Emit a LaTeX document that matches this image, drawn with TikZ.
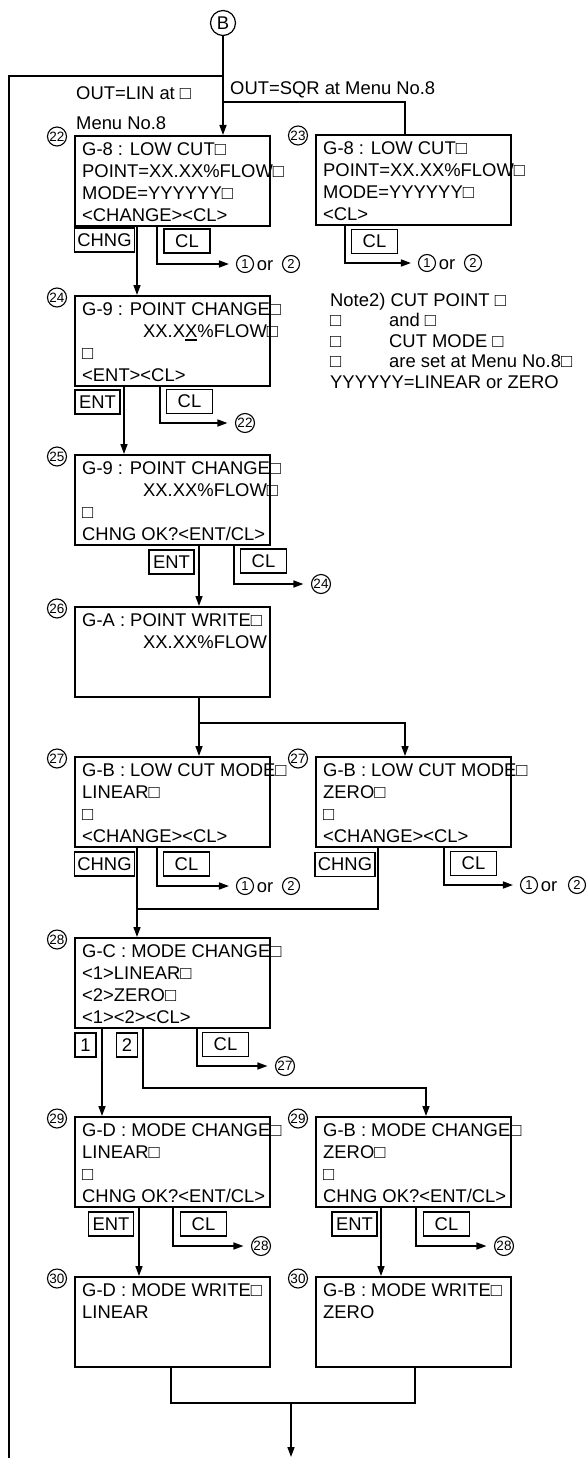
\documentclass[tikz,border=0pt]{standalone}
\usepackage{fontspec}
\setmainfont{Liberation Sans}
\usetikzlibrary{arrows.meta,calc}
\newcommand\sq{□}
\newcommand\ulX{\rlap{\rule[-3pt]{12pt}{1.6pt}}X}
\newcommand\fst{\rule{0pt}{15pt}}
\begin{document}
\begin{tikzpicture}[x=1pt,y=-1pt,
  scr/.style={draw,line width=1.8pt,minimum width=195pt,minimum height=90pt,inner sep=0pt,anchor=north west},
  txt/.style={align=left,inner sep=0pt,anchor=north west,font=\fontsize{18.4}{22}\selectfont},
  lab/.style={inner sep=0pt,font=\fontsize{18.4}{22}\selectfont},
  keyb/.style={draw,line width=1.3pt,minimum height=24pt,inner sep=0pt,font=\fontsize{18.4}{22}\selectfont},
  num/.style={circle,draw,line width=1.1pt,inner sep=0pt,minimum size=19pt,font=\fontsize{13.5}{13.5}\selectfont},
  snum/.style={circle,draw,line width=1.1pt,inner sep=0pt,minimum size=17pt,font=\fontsize{13}{13}\selectfont},
  conn/.style={line width=1.5pt},
  arr/.style={conn,-{Triangle[length=10pt,width=7pt]}}]
\useasboundingbox (0,0) rectangle (588,1458);

% ---------- screens ----------
\node[scr] (b22) at (74,135) {};
\node[scr] (b23) at (315,134) {};
\node[scr] (b24) at (74,295) {};
\node[scr] (b25) at (74,454) {};
\node[scr] (b26) at (74,606) {};
\node[scr] (b27L) at (74,756) {};
\node[scr] (b27R) at (315,756) {};
\node[scr] (b28) at (74,937) {};
\node[scr] (b29L) at (74,1116) {};
\node[scr] (b29R) at (315,1116) {};
\node[scr] (b30L) at (74,1276) {};
\node[scr] (b30R) at (315,1276) {};

% ---------- screen texts ----------
\node[txt] (t22) at ($(b22.north west)+(8,5.5)$) {\fst G-8 : LOW CUT\sq\\POINT=XX.XX\%FLOW\sq\\MODE=YYYYYY\sq\\<CHANGE><CL>};
\node[txt] (t23) at ($(b23.north west)+(8,5.5)$) {\fst G-8 : LOW CUT\sq\\POINT=XX.XX\%FLOW\sq\\MODE=YYYYYY\sq\\<CL>};
\node[txt] (t24) at ($(b24.north west)+(8,5.5)$) {\fst G-9 : POINT CHANGE\sq\\\hspace*{61pt}XX.X\ulX\%FLOW\sq\\\sq\\<ENT><CL>};
\node[txt] (t25) at ($(b25.north west)+(8,5.5)$) {\fst G-9 : POINT CHANGE\sq\\\hspace*{61pt}XX.XX\%FLOW\sq\\\sq\\CHNG OK?<ENT/CL>};
\node[txt] (t26) at ($(b26.north west)+(8,5.5)$) {\fst G-A : POINT WRITE\sq\\\hspace*{61pt}XX.XX\%FLOW};
\node[txt] (t27L) at ($(b27L.north west)+(8,5.5)$) {\fst G-B : LOW CUT MODE\sq\\LINEAR\sq\\\sq\\<CHANGE><CL>};
\node[txt] (t27R) at ($(b27R.north west)+(8,5.5)$) {\fst G-B : LOW CUT MODE\sq\\ZERO\sq\\\sq\\<CHANGE><CL>};
\node[txt] (t28) at ($(b28.north west)+(8,5.5)$) {\fst G-C : MODE CHANGE\sq\\<1>LINEAR\sq\\<2>ZERO\sq\\<1><2><CL>};
\node[txt] (t29L) at ($(b29L.north west)+(8,5.5)$) {\fst G-D : MODE CHANGE\sq\\LINEAR\sq\\\sq\\CHNG OK?<ENT/CL>};
\node[txt] (t29R) at ($(b29R.north west)+(8,5.5)$) {\fst G-B : MODE CHANGE\sq\\ZERO\sq\\\sq\\CHNG OK?<ENT/CL>};
\node[txt] (t30L) at ($(b30L.north west)+(8,5.5)$) {\fst G-D : MODE WRITE\sq\\LINEAR};
\node[txt] (t30R) at ($(b30R.north west)+(8,5.5)$) {\fst G-B : MODE WRITE\sq\\ZERO};

% ---------- step numbers ----------
\node[num] (n22) at ($(b22.north west)+(-17,1.5)$) {22};
\node[num] (n23) at ($(b23.north west)+(-17,1.5)$) {23};
\node[num] (n24) at ($(b24.north west)+(-17,2.5)$) {24};
\node[num] (n25) at ($(b25.north west)+(-17,2.5)$) {25};
\node[num] (n26) at ($(b26.north west)+(-17,2.5)$) {26};
\node[num] (n27L) at ($(b27L.north west)+(-17,2.5)$) {27};
\node[num] (n27R) at ($(b27R.north west)+(-17,2.5)$) {27};
\node[num] (n28) at ($(b28.north west)+(-17,2.5)$) {28};
\node[num] (n29L) at ($(b29L.north west)+(-17,2.5)$) {29};
\node[num] (n29R) at ($(b29R.north west)+(-17,2.5)$) {29};
\node[num] (n30L) at ($(b30L.north west)+(-17,2.5)$) {30};
\node[num] (n30R) at ($(b30R.north west)+(-17,2.5)$) {30};

% ---------- keys ----------
\node[keyb,minimum width=60pt] (k22chng) at (104.5,240) {CHNG};
\node[keyb,minimum width=46pt] (k22cl) at (187,241) {CL};
\node[keyb,minimum width=46pt] (k23cl) at (374.5,241.5) {CL};
\node[keyb,minimum width=45pt] (k24ent) at (97.5,402) {ENT};
\node[keyb,minimum width=46pt] (k24cl) at (189.5,401.5) {CL};
\node[keyb,minimum width=45pt] (k25ent) at (171.5,562) {ENT};
\node[keyb,minimum width=46pt] (k25cl) at (263.5,561) {CL};
\node[keyb,minimum width=60pt] (k27Lchng) at (104.5,864) {CHNG};
\node[keyb,minimum width=46pt] (k27Lcl) at (186.5,864) {CL};
\node[keyb,minimum width=60pt] (k27Rchng) at (345,864.5) {CHNG};
\node[keyb,minimum width=46pt] (k27Rcl) at (473.5,863.5) {CL};
\node[keyb,minimum width=21pt] (k28one) at (85.5,1045) {1};
\node[keyb,minimum width=21pt] (k28two) at (127,1045) {2};
\node[keyb,minimum width=46pt] (k28cl) at (225.5,1044.5) {CL};
\node[keyb,minimum width=45pt] (k29Lent) at (111,1224) {ENT};
\node[keyb,minimum width=46pt] (k29Lcl) at (203.5,1224) {CL};
\node[keyb,minimum width=45pt] (k29Rent) at (354.5,1224) {ENT};
\node[keyb,minimum width=46pt] (k29Rcl) at (446.5,1224) {CL};

% ---------- free labels ----------
\node[circle,draw,line width=1.2pt,minimum size=25pt,inner sep=0pt,font=\fontsize{18.4}{22}\selectfont] (B) at (223,23) {B};
\node[lab,anchor=base west] (sqr) at (230,95) {OUT=SQR at Menu No.8};
\node[lab,anchor=base west] (lin1) at (76,100) {OUT=LIN at \sq};
\node[lab,anchor=base west] (lin2) at (76,130) {Menu No.8};

\node[lab,anchor=base west] (nt1) at (330,306) {Note2) CUT POINT \sq};
\node[lab,anchor=base west] (nt2a) at (330,326.5) {\sq};
\node[lab,anchor=base west] (nt2b) at (389,326.5) {and \sq};
\node[lab,anchor=base west] (nt3a) at (330,347) {\sq};
\node[lab,anchor=base west] (nt3b) at (389,347) {CUT MODE \sq};
\node[lab,anchor=base west] (nt4a) at (330,367.5) {\sq};
\node[lab,anchor=base west] (nt4b) at (389,367.5) {are set at Menu No.8\sq};
\node[lab,anchor=base west] (nt5) at (330,388) {YYYYYY=LINEAR or ZERO};

% targets of CL arrows
\node[snum] (o22a) at (245,264) {1};
\node[lab,anchor=base] (o22or) at (265,270) {or};
\node[snum] (o22b) at (291,264) {2};
\node[snum] (o23a) at (427,263) {1};
\node[lab,anchor=base] (o23or) at (447,269) {or};
\node[snum] (o23b) at (473,263) {2};
\node[num] (r22) at (245,423) {22};
\node[num] (r24) at (321,584) {24};
\node[snum] (o27La) at (245,886) {1};
\node[lab,anchor=base] (o27Lor) at (265,892) {or};
\node[snum] (o27Lb) at (291,886) {2};
\node[snum] (o27Ra) at (529,885) {1};
\node[lab,anchor=base] (o27Ror) at (549,891) {or};
\node[snum] (o27Rb) at (577,885) {2};
\node[num] (r27) at (285,1066) {27};
\node[num] (r28a) at (261,1246) {28};
\node[num] (r28b) at (504,1246) {28};

% ---------- connectors ----------
\coordinate (j1) at (223,76);
\coordinate (j2) at (223,102);
\coordinate (loopA) at (9,76);
\coordinate (loopB) at (9,1458);
\coordinate (j3) at (199,723);
\coordinate (j4) at (137,909);
\coordinate (j5) at (143,1088);
\coordinate (j6) at (291,1403);
\coordinate (endc) at (291,1457);

\draw[arr] (B.south) -- ([xshift=149pt]b22.north west);
\draw[conn] (j1) -- (loopA) -- (loopB);
\draw[conn] (j2) -| ([xshift=90pt]b23.north west);

\draw[arr] ([xshift=63pt]b22.south west) -- ([xshift=63pt]b24.north west);
\draw[arr] ([xshift=83pt]b22.south west) |- ([xshift=-7pt]o22a.west);
\draw[arr] ([xshift=30pt]b23.south west) |- ([xshift=-7pt]o23a.west);

\draw[arr] ([xshift=50pt]b24.south west) -- ([xshift=50pt]b25.north west);
\draw[arr] ([xshift=86pt]b24.south west) |- ([xshift=-7.5pt]r22.west);

\draw[arr] ([xshift=125pt]b25.south west) -- ([xshift=125pt]b26.north west);
\draw[arr] ([xshift=160pt]b25.south west) |- ([xshift=-7.5pt]r24.west);

\draw[arr] ([xshift=125pt]b26.south west) -- ([xshift=125pt]b27L.north west);
\draw[arr] (j3) -| ([xshift=90pt]b27R.north west);

\draw[arr] ([xshift=63pt]b27L.south west) -- ([xshift=63pt]b28.north west);
\draw[conn] ([xshift=63pt]b27R.south west) |- (j4);
\draw[arr] ([xshift=83pt]b27L.south west) |- ([xshift=-7pt]o27La.west);
\draw[arr] ([xshift=129pt]b27R.south west) |- ([xshift=-7pt]o27Ra.west);

\draw[arr] ([xshift=28pt]b28.south west) -- ([xshift=28pt]b29L.north west);
\draw[arr] ([xshift=69pt]b28.south west) -- (j5) -| ([xshift=111pt]b29R.north west);
\draw[arr] ([xshift=123pt]b28.south west) |- ([xshift=-7.5pt]r27.west);

\draw[arr] ([xshift=65pt]b29L.south west) -- ([xshift=65pt]b30L.north west);
\draw[arr] ([xshift=99pt]b29L.south west) |- ([xshift=-7.5pt]r28a.west);
\draw[arr] ([xshift=66pt]b29R.south west) -- ([xshift=66pt]b30R.north west);
\draw[arr] ([xshift=101pt]b29R.south west) |- ([xshift=-7.5pt]r28b.west);

\draw[conn] ([xshift=97pt]b30L.south west) |- (j6) -| ([xshift=100pt]b30R.south west);
\draw[arr] (j6) -- (endc);
\end{tikzpicture}
\end{document}
